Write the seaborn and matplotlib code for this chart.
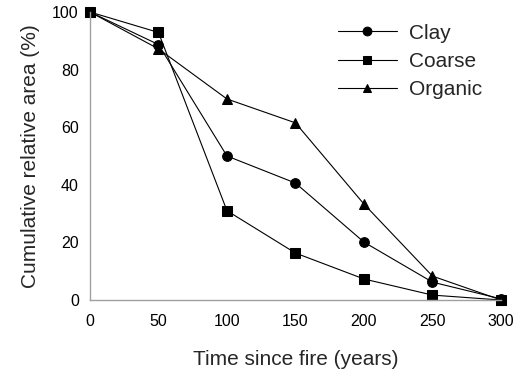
import matplotlib
matplotlib.use("Agg")
import matplotlib.pyplot as plt
import seaborn as sns
import pandas as pd

# Cumulative relative area (%) by time since fire for three soil types
years = [0, 50, 100, 150, 200, 250, 300]
clay = [100, 88.7, 50.0, 40.6, 20.1, 6.2, 0.4]
coarse = [100, 92.9, 31.0, 16.3, 7.3, 1.7, 0.0]
organic = [100, 87.2, 69.8, 61.5, 33.3, 8.3, 0.0]
soil_types = ["Clay", "Coarse", "Organic"]

df = pd.DataFrame({
    "years": years * 3,
    "area": clay + coarse + organic,
    "soil": sum([[s] * len(years) for s in soil_types], []),
})

sns.set_theme(style="white")
plt.rcParams["font.family"] = ["Liberation Sans", "DejaVu Sans"]

fig = plt.figure(figsize=(5.17, 3.75), dpi=100)
ax = fig.add_axes([0.174, 0.2, 0.795, 0.768])

sns.lineplot(
    data=df, x="years", y="area", hue="soil", style="soil",
    palette={s: "black" for s in soil_types},
    markers={"Clay": "o", "Coarse": "s", "Organic": "^"},
    dashes=False, markersize=7, linewidth=0.8, markeredgecolor="black",
    ax=ax, clip_on=False,
)

ax.set_xlim(0, 300)
ax.set_ylim(0, 100)
ax.set_xticks(years)
ax.set_yticks([0, 20, 40, 60, 80, 100])
ax.tick_params(axis="both", length=0, labelsize=11.5, colors="black")
ax.tick_params(axis="x", pad=10)
ax.tick_params(axis="y", pad=8)

for side in ["top", "right"]:
    ax.spines[side].set_visible(False)
for side in ["left", "bottom"]:
    ax.spines[side].set_color("#a0a0a0")
    ax.spines[side].set_linewidth(1.0)

ax.set_xlabel("Time since fire (years)", fontsize=15, labelpad=15)
ax.set_ylabel("Cumulative relative area (%)", fontsize=15, labelpad=9)

leg = ax.legend(
    loc="upper right", bbox_to_anchor=(1.0, 1.025), frameon=False,
    fontsize=15, handlelength=2.8, handletextpad=0.6, labelspacing=0.45,
    markerscale=0.9,
)

fig.savefig("out.png", dpi=100)
